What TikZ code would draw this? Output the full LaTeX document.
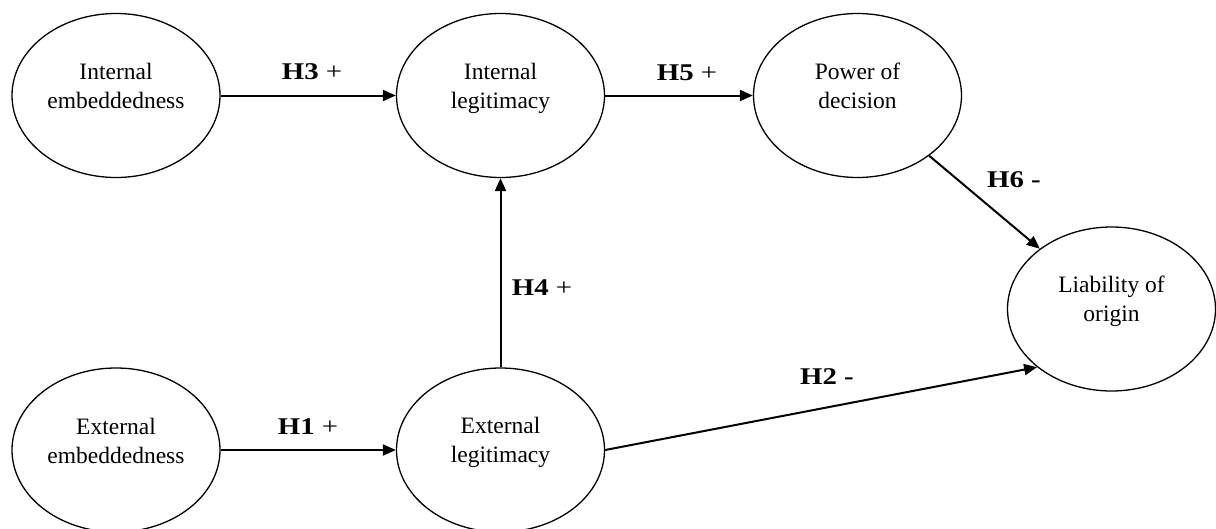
\documentclass[tikz,border=0pt]{standalone}
\usepackage{fontspec}
\usepackage{graphicx}
\setmainfont{Liberation Serif}
\usetikzlibrary{shapes.geometric, arrows.meta}
\newcommand{\hwide}[1]{\scalebox{1.2}[1]{#1}}
\begin{document}
\begin{tikzpicture}[x=1pt,y=-1pt,
  cons/.style={draw, ellipse, line width=1.3pt, inner sep=0pt, minimum width=208pt, minimum height=164pt},
  ctext/.style={align=center, font=\fontsize{23.5}{29}\selectfont, inner sep=0pt},
  arr/.style={-{Triangle[length=13pt,width=11pt]}, line width=2pt},
  hlab/.style={font=\fontsize{24}{30}\selectfont, inner sep=0pt}]
\useasboundingbox (0,0) rectangle (1216,528);
% constructs
\node[cons] (ie) at (116,95.5) {};
\node[ctext] (iet) at (116,85.5) {Internal\\embeddedness};
\node[cons] (il) at (500.5,95.5) {};
\node[ctext] (ilt) at (500.5,88) {Internal\\legitimacy};
\node[cons] (pd) at (857.5,95.5) {};
\node[ctext] (pdt) at (857.5,85.5) {Power of\\decision};
\node[cons] (lo) at (1111.5,309) {};
\node[ctext] (lot) at (1111.5,301) {Liability of\\origin};
\node[cons] (ee) at (116,450) {};
\node[ctext] (eet) at (116,441) {External\\embeddedness};
\node[cons] (el) at (500.5,450) {};
\node[ctext] (elt) at (500.5,442) {External\\legitimacy};
% paths
\draw[arr] (ie) -- (il);
\draw[arr] (il) -- (pd);
\draw[arr] (ee) -- (el);
\draw[arr] (el) -- (il);
\draw[arr] (pd) -- (lo);
\draw[arr] (el.east) -- (lo.218);
% labels
\node[hlab] (h3) at (312,72) {\hwide{\textbf{H3} +}};
\node[hlab] (h5) at (687,73) {\hwide{\textbf{H5} +}};
\node[hlab] (h1) at (308,427) {\hwide{\textbf{H1} +}};
\node[hlab] (h4) at (542,288) {\hwide{\textbf{H4} +}};
\node[hlab] (h6) at (1014,180) {\hwide{\textbf{H6 -}}};
\node[hlab] (h2) at (827,377) {\hwide{\textbf{H2 -}}};
\end{tikzpicture}
\end{document}
